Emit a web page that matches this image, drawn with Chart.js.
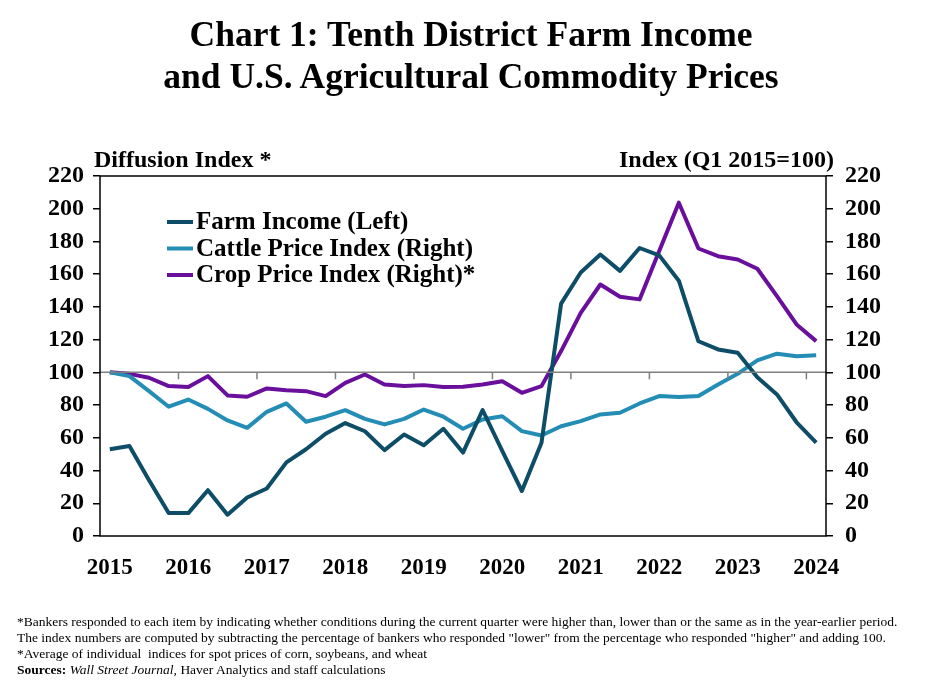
<!DOCTYPE html>
<html>
<head>
<meta charset="utf-8">
<script src="https://cdn.jsdelivr.net/npm/chart.js@4.4.1/dist/chart.umd.min.js"></script>
<style>
  html, body { margin: 0; padding: 0; background: #fff; }
  #wrap { position: relative; width: 925px; height: 693px; overflow: hidden; }
  #title { position: absolute; left: 0; top: 13px; width: 942px; text-align: center;
    font-family: "Liberation Serif", "Times New Roman", serif; font-weight: bold; font-size: 35.5px; line-height: 42px; color: #000; }
  #notes { position: absolute; left: 17px; top: 614px; font-family: "Liberation Serif", "Times New Roman", serif;
    font-size: 13.5px; line-height: 16px; color: #000; white-space: nowrap; }
  canvas { position: absolute; left: 0; top: 0; }
</style>
</head>
<body>
<div id="wrap">
  <canvas id="c" width="925" height="693"></canvas>
  <div id="title">Chart 1: Tenth District Farm Income<br>and U.S. Agricultural Commodity Prices</div>
  <div id="notes">
    *Bankers responded to each item by indicating whether conditions during the current quarter were higher than, lower than or the same as in the year-earlier period.<br>
    The index numbers are computed by subtracting the percentage of bankers who responded "lower" from the percentage who responded "higher" and adding 100.<br>
    *Average of individual&nbsp; indices for spot prices of corn, soybeans, and wheat<br>
    <b>Sources:</b> <i>Wall Street Journal,</i> Haver Analytics and staff calculations
  </div>
</div>
<script>
// Quarterly categories Q1 2015 .. Q1 2024
const quarters = [
  "2015Q1","2015Q2","2015Q3","2015Q4",
  "2016Q1","2016Q2","2016Q3","2016Q4",
  "2017Q1","2017Q2","2017Q3","2017Q4",
  "2018Q1","2018Q2","2018Q3","2018Q4",
  "2019Q1","2019Q2","2019Q3","2019Q4",
  "2020Q1","2020Q2","2020Q3","2020Q4",
  "2021Q1","2021Q2","2021Q3","2021Q4",
  "2022Q1","2022Q2","2022Q3","2022Q4",
  "2023Q1","2023Q2","2023Q3","2023Q4",
  "2024Q1"
];
const yearLabels = ["2015","2016","2017","2018","2019","2020","2021","2022","2023","2024"];

const farmIncome = [53,55,34,14,14,28,13,23.5,29,45,53,62.5,69,64,52.5,62,55.5,65.5,51,77,52,27.5,57,142,161,172,162,176,171.5,156,119,114,112,97,86.5,69.5,57];
const cattlePrice = [100,97.7,88.5,79,83.4,77.7,70.6,66.1,75.9,81,69.8,72.9,76.9,71.6,68.2,71.6,77.3,72.9,65.5,71.2,73.2,64.1,61.4,67.1,70.2,74.3,75.3,81,85.5,84.9,85.5,92.6,99.1,107.3,111.4,109.9,110.5];
const cropPrice = [100,99.1,96.7,91.6,91,97.7,85.9,85.1,90.2,89,88.5,85.5,93.6,98.7,92.6,91.6,92.2,91,91.2,92.6,94.6,87.5,91.6,113,136.4,153.7,146.2,144.6,174.1,203.7,175.7,171,169,163.3,146.6,129.3,119.1];

const yTicks = [0,20,40,60,80,100,120,140,160,180,200,220];

const seriesNames = ["Farm Income (Left)","Cattle Price Index (Right)","Crop Price Index (Right)*"];
const seriesColors = ["#0d4d68","#238db5","#6a0f9c"];

const SERIF = '"Liberation Serif", "Times New Roman", serif';

const framePlugin = {
  id: 'frame',
  afterDatasetsDraw(chart) {
    const ctx = chart.ctx, a = chart.chartArea, xs = chart.scales.x, ys = chart.scales.y;
    ctx.save();
    const y100 = ys.getPixelForValue(100);
    ctx.strokeStyle = '#7f7f7f';
    ctx.lineWidth = 1.5;
    ctx.beginPath();
    ctx.moveTo(a.left, y100); ctx.lineTo(a.right, y100);
    for (let i = 3; i < quarters.length - 1; i += 4) {
      const xp = (xs.getPixelForValue(i) + xs.getPixelForValue(i + 1)) / 2;
      ctx.moveTo(xp, y100); ctx.lineTo(xp, y100 + 7);
    }
    ctx.stroke();
    ctx.restore();
  },
  afterDraw(chart) {
    const ctx = chart.ctx, a = chart.chartArea;
    ctx.save();
    ctx.strokeStyle = '#000';
    ctx.lineWidth = 1.5;
    ctx.strokeRect(a.left, a.top, a.right - a.left, a.bottom - a.top);
    ctx.fillStyle = '#000';
    ctx.font = 'bold 24px ' + SERIF;
    ctx.textBaseline = 'alphabetic';
    ctx.textAlign = 'left';
    ctx.fillText('Diffusion Index *', a.left - 6, a.top - 9);
    ctx.textAlign = 'right';
    ctx.fillText('Index (Q1 2015=100)', a.right + 8, a.top - 9);
    ctx.font = 'bold 25px ' + SERIF;
    ctx.textAlign = 'left';
    ctx.textBaseline = 'middle';
    chart.data.datasets.forEach((ds, k) => {
      const ly = a.top + 46 + k * 26.5;
      ctx.strokeStyle = ds.borderColor;
      ctx.lineWidth = 4;
      ctx.beginPath();
      ctx.moveTo(a.left + 67, ly); ctx.lineTo(a.left + 93, ly);
      ctx.stroke();
      ctx.fillText(ds.label, a.left + 96, ly + 1);
    });
    ctx.restore();
  }
};

new Chart(document.getElementById('c'), {
  type: 'line',
  data: {
    labels: quarters,
    datasets: [
      { label: seriesNames[0], data: farmIncome, yAxisID: 'y', borderColor: seriesColors[0] },
      { label: seriesNames[1], data: cattlePrice, yAxisID: 'y1', borderColor: seriesColors[1] },
      { label: seriesNames[2], data: cropPrice, yAxisID: 'y1', borderColor: seriesColors[2] }
    ]
  },
  options: {
    responsive: false,
    animation: false,
    devicePixelRatio: 1,
    layout: { padding: { top: 176, left: 0, right: 0, bottom: 0 } },
    elements: {
      line: { borderWidth: 4, tension: 0, borderJoinStyle: 'round', fill: false },
      point: { radius: 0, hoverRadius: 0 }
    },
    plugins: { legend: { display: false }, title: { display: false }, tooltip: { enabled: false } },
    scales: {
      x: {
        type: 'category',
        offset: true,
        grid: { display: false, drawTicks: false },
        border: { display: false },
        ticks: {
          autoSkip: false, maxRotation: 0, minRotation: 0, padding: 18,
          color: '#000', font: { family: SERIF, size: 23, weight: 'bold' },
          callback: (v, i) => (i % 4 === 0 ? yearLabels[i / 4] : '')
        },
        afterFit: (s) => { s.height = 693 - 536; }
      },
      y: {
        position: 'left', min: 0, max: 220,
        afterBuildTicks: (s) => { s.ticks = yTicks.map(v => ({ value: v })); },
        grid: { drawOnChartArea: false, drawTicks: true, tickLength: 7, color: '#000', lineWidth: 1.5 },
        border: { display: false },
        ticks: { padding: 9, color: '#000', font: { family: SERIF, size: 24, weight: 'bold' } },
        afterFit: (s) => { s.width = 100; }
      },
      y1: {
        position: 'right', min: 0, max: 220,
        afterBuildTicks: (s) => { s.ticks = yTicks.map(v => ({ value: v })); },
        grid: { drawOnChartArea: false, drawTicks: true, tickLength: 7, color: '#000', lineWidth: 1.5 },
        border: { display: false },
        ticks: { padding: 12, color: '#000', font: { family: SERIF, size: 24, weight: 'bold' } },
        afterFit: (s) => { s.width = 99; }
      }
    }
  },
  plugins: [framePlugin]
});
</script>
</body>
</html>
